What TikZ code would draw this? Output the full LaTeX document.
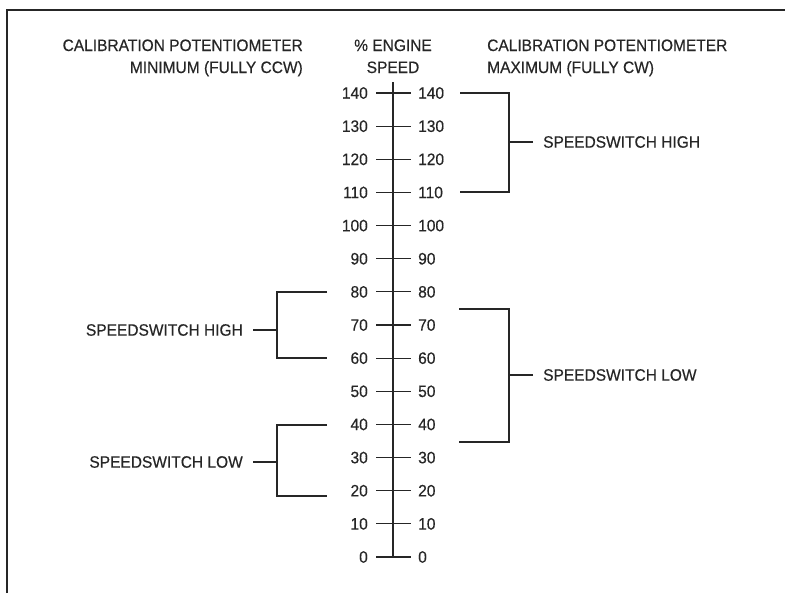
\documentclass[tikz,border=0pt]{standalone}
\usepackage{fontspec}
\setmainfont{Liberation Sans}[FakeStretch=0.94,FakeBold=0.4]
\usetikzlibrary{positioning}

\definecolor{ink}{HTML}{262626}
\tikzset{
  txt/.style={font=\fontsize{16.5}{19}\selectfont, text=ink, inner sep=0pt},
  bracket/.style={draw=ink, line width=1.2pt},
}

\begin{document}
\begin{tikzpicture}[x=1pt,y=-1pt]
\useasboundingbox (0,0) rectangle (791,595);
% frame
\draw[ink, line width=1.2pt] (7,593) -- (7,10) -- (785,10);
% headers
\node[txt, anchor=base east] (minA) at (303,51) {CALIBRATION POTENTIOMETER};
\node[txt, anchor=base east] (minB) at (303,73) {MINIMUM (FULLY CCW)};
\node[txt, anchor=base] (pctA) at (393,51) {\% ENGINE};
\node[txt, anchor=base] (pctB) at (393,73) {SPEED};
\node[txt, anchor=base west] (maxA) at (487,51) {CALIBRATION POTENTIOMETER};
\node[txt, anchor=base west] (maxB) at (487,73) {MAXIMUM (FULLY CW)};
% scale
\coordinate (top) at (393,82);
\coordinate (bot) at (393,558);
\draw[ink, line width=2pt] (top) -- (bot);
\foreach \v in {0,10,...,140} {
  \coordinate (t\v) at (393,557-\v*3.314);
  \draw[ink, line width=1.1pt] ([xshift=-17pt]t\v) -- ([xshift=18pt]t\v);
  \node[txt, anchor=east] (l\v) at ([xshift=-25pt]t\v) {\v};
  \node[txt, anchor=west] (r\v) at ([xshift=25pt]t\v) {\v};
}
% right side: high
\coordinate (rh1) at (460,93);
\coordinate (rh2) at (460,192);
\node[txt, anchor=west] (swHighR) at (543,142) {SPEEDSWITCH HIGH};
\draw[bracket] (rh1) -- (509,93) -- (509,192) -- (rh2);
\draw[bracket] (swHighR.west) ++(-10,0) -- ++(-24,0);
% right side: low
\coordinate (rl1) at (459,309);
\coordinate (rl2) at (459,442);
\node[txt, anchor=west] (swLowR) at (543,375) {SPEEDSWITCH LOW};
\draw[bracket] (rl1) -- (509,309) -- (509,442) -- (rl2);
\draw[bracket] (swLowR.west) ++(-10,0) -- ++(-24,0);
% left side: high
\coordinate (lh1) at (327,292);
\coordinate (lh2) at (327,358);
\node[txt, anchor=east] (swHighL) at (243,330) {SPEEDSWITCH HIGH};
\draw[bracket] (lh1) -- (277,292) -- (277,358) -- (lh2);
\draw[bracket] (swHighL.east) ++(10,0) -- ++(24,0);
% left side: low
\coordinate (ll1) at (327,425);
\coordinate (ll2) at (327,496);
\node[txt, anchor=east] (swLowL) at (243,462) {SPEEDSWITCH LOW};
\draw[bracket] (ll1) -- (277,425) -- (277,496) -- (ll2);
\draw[bracket] (swLowL.east) ++(10,0) -- ++(24,0);
\end{tikzpicture}
\end{document}
